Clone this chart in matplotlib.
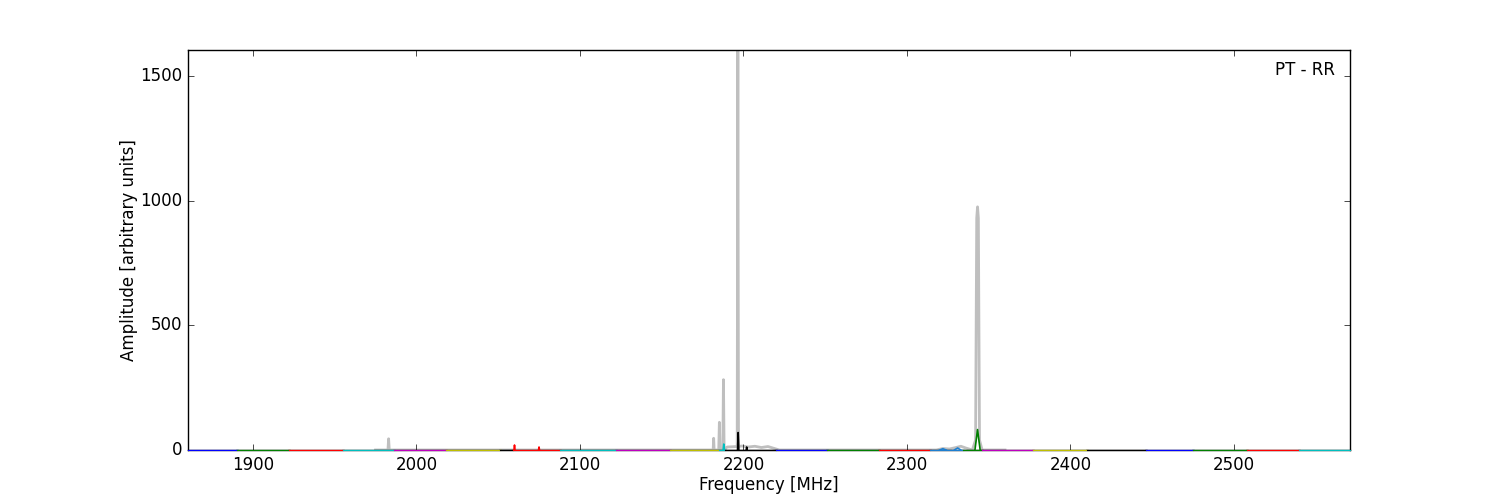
import matplotlib
matplotlib.use('Agg')
import matplotlib.pyplot as plt
import numpy as np

plt.style.use('classic')

# sub-band baselines: start / end frequency [MHz], colour, baseline level
seg_start = [1860, 1890, 1922, 1955, 1986, 2018, 2051, 2059, 2088, 2122, 2155, 2185, 2189,
             2220, 2251, 2283, 2314, 2334, 2346, 2377, 2410, 2446, 2475, 2508, 2540]
seg_end = [1890, 1922, 1955, 1986, 2018, 2051, 2059, 2088, 2122, 2155, 2185, 2189, 2220,
           2251, 2283, 2314, 2334, 2346, 2377, 2410, 2446, 2475, 2508, 2540, 2571]
seg_color = ['b', 'g', 'r', 'c', 'm', 'y', 'k', 'r', 'c', 'm', 'y', 'c', 'k',
             'b', 'g', 'r', '#1e7fd0', 'g', 'm', 'y', 'k', 'b', 'g', 'r', 'c']
seg_level = [1, 1, 1, 1, 1, 1, 1, 1, 1, 1, 1, 1, 2,
             1, 1, 1, 1, 1, 1, 1, 1, 1, 1, 1, 1]

# narrow features in the coloured channels
spike_freq = [2060.0, 2075.0, 2188.0, 2196.8, 2202.0, 2322.0, 2331.0, 2343.2]
spike_amp = [20, 12, 24, 70, 12, 5, 8, 82]
spike_width = [0.3, 0.3, 0.4, 0.4, 0.3, 2.0, 2.0, 1.6]
spike_color = ['r', 'r', 'c', 'k', 'k', '#1e7fd0', '#1e7fd0', 'g']

# full-resolution spectrum (grey)
grey_freq = [1975, 1982.6, 1983.0, 1983.4, 1990, 2180, 2181.5, 2181.8, 2182.1, 2184.9,
             2185.3, 2185.7, 2187.4, 2187.8, 2188.2, 2190, 2196.2, 2196.6, 2197.0, 2199,
             2203, 2207, 2211, 2215, 2218, 2222, 2318, 2322, 2326, 2330, 2333, 2336,
             2340, 2342.0, 2342.7, 2343.2, 2343.7, 2344.4, 2346, 2360]
grey_amp = [0, 0, 45, 0, 0, 0, 0, 47, 0, 0,
            111, 0, 0, 282, 0, 12, 14, 1604, 14, 16,
            12, 15, 10, 14, 8, 0, 0, 6, 4, 10, 15, 8,
            0, 40, 930, 975, 930, 40, 0, 0]

fig = plt.figure(figsize=(15, 5), dpi=100, facecolor='white')
ax = fig.add_subplot(111)

ax.plot(grey_freq, grey_amp, color='0.75', lw=2, zorder=1)

for s, e, c, lv in zip(seg_start, seg_end, seg_color, seg_level):
    ax.plot([s, e], [lv, lv], color=c, lw=2, alpha=0.15, zorder=2)
    ax.plot([s, e], [0, 0], color=c, lw=0.8, zorder=3, clip_on=False)

for f, a, w, c in zip(spike_freq, spike_amp, spike_width, spike_color):
    ax.plot([f - w, f, f + w], [0, a, 0], color=c, lw=1.2, zorder=3)

ax.text(0.987, 0.95, 'PT - RR', transform=ax.transAxes, ha='right', va='center', fontsize=12)

ax.set_xlim(1860, 2571)
ax.set_ylim(0, 1604)
ax.set_xticks(np.arange(1900, 2501, 100))
ax.set_yticks([0, 500, 1000, 1500])
ax.set_xlabel('Frequency [MHz]', labelpad=1.5)
ax.set_ylabel('Amplitude [arbitrary units]', labelpad=1.5)

fig.savefig('out.png', dpi=100, facecolor='white')
